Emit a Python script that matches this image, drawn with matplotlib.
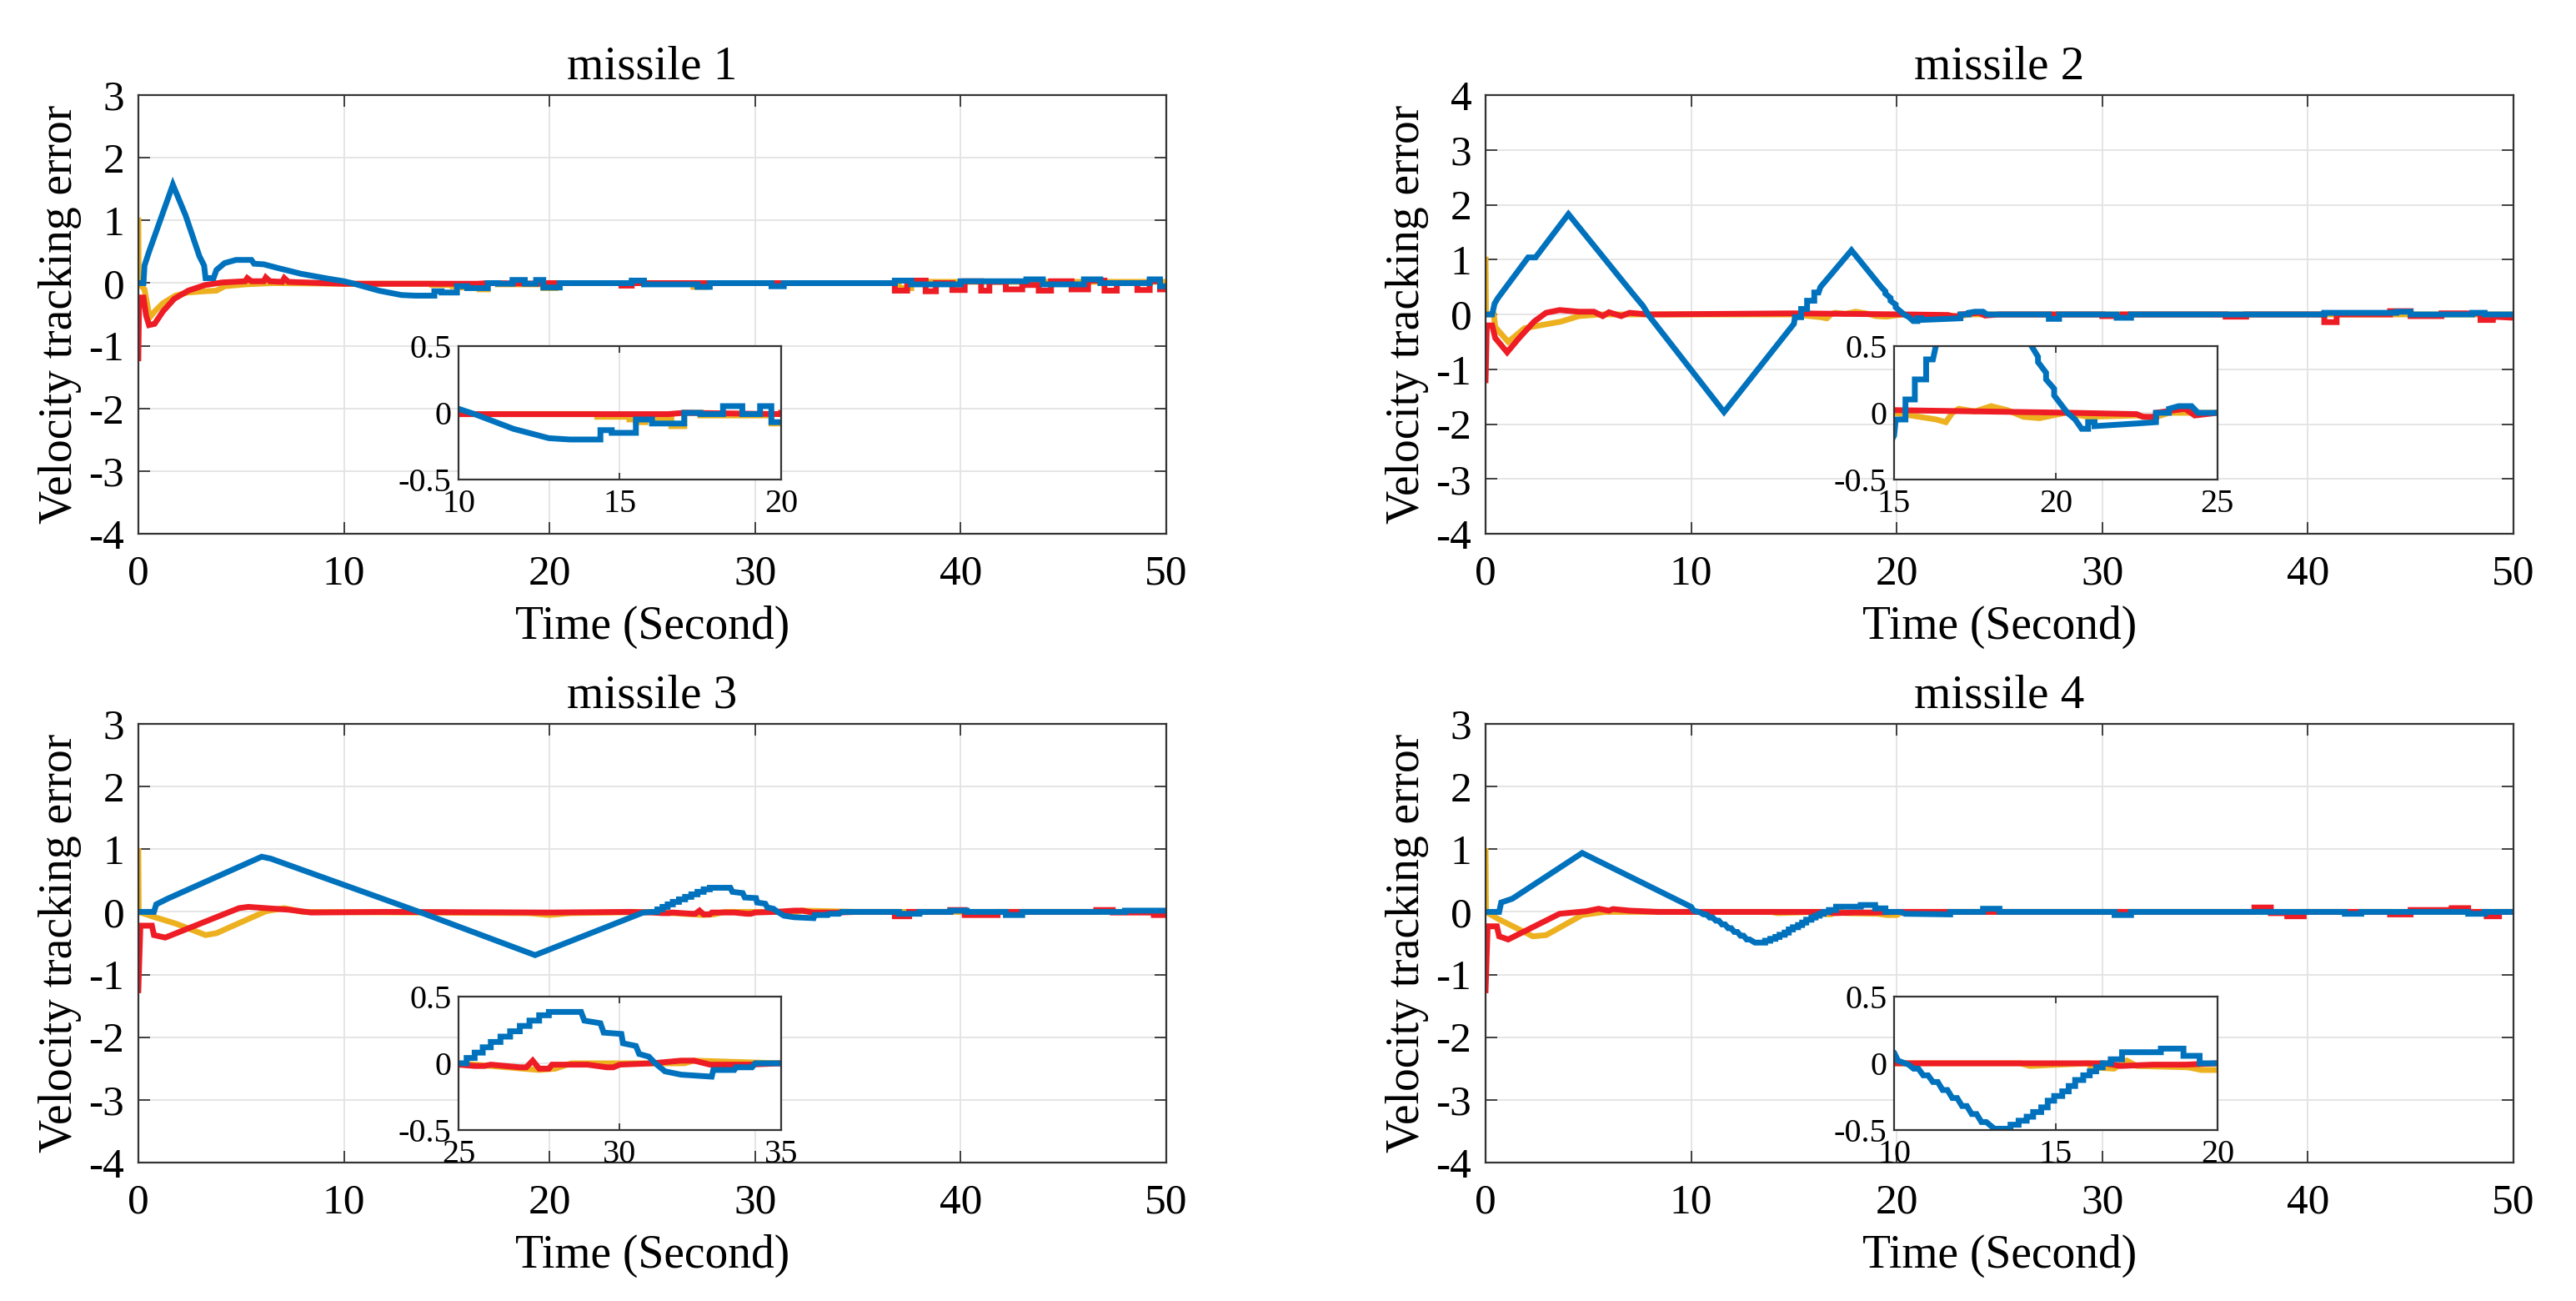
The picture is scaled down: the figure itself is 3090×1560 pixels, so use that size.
import matplotlib
matplotlib.use("Agg")

import matplotlib.pyplot as plt

plt.rcParams['font.family'] = ['Liberation Serif', 'DejaVu Serif']
plt.rcParams['axes.unicode_minus'] = False

# (time, error) pairs, one list per curve
m1_yellow = [(0, 1.0), (0.02, 0.0), (0.3, -0.1), (0.55, -0.55), (0.8, -0.45), (1.2, -0.32),
             (1.8, -0.2), (2.4, -0.15), (3.2, -0.13), (3.8, -0.12), (4.2, -0.05), (5.2, -0.02),
             (6.5, 0.0), (10, -0.01), (14.3, -0.01), (14.3, -0.03), (15.3, -0.03), (15.3, -0.05),
             (15.5, -0.05), (15.5, -0.07), (15.8, -0.07), (15.8, -0.04), (16.6, -0.04), (16.6, -0.1),
             (17.0, -0.1), (17.0, 0.0), (17.5, 0.0), (17.5, -0.02), (19.7, -0.02), (19.7, -0.08),
             (20.3, -0.08), (20.3, 0.0), (27, 0.0), (27, -0.06), (27.6, -0.06), (27.6, 0.0),
             (37, 0.0), (37, -0.08), (37.6, -0.08), (37.6, 0.02), (50, 0.02)]
m1_red = [(0, -1.2), (0.04, -0.23), (0.25, -0.23), (0.38, -0.52), (0.52, -0.67), (0.79, -0.65),
          (1.2, -0.45), (1.75, -0.25), (2.43, -0.12), (3.25, -0.03), (4.07, 0.01), (5.2, 0.03),
          (5.3, 0.08), (5.5, 0.03), (6.1, 0.03), (6.2, 0.09), (6.4, 0.03), (7.0, 0.02), (7.1, 0.08),
          (7.3, 0.02), (9, 0.0), (10, -0.01), (16.5, -0.01), (17, 0.0), (20, -0.01), (20, 0.0),
          (23.5, 0.0), (23.5, -0.04), (24, -0.04), (24, 0.0), (36.8, 0.0), (36.8, -0.12),
          (37.4, -0.12), (37.4, 0.04), (38.3, 0.04), (38.3, -0.13), (38.8, -0.13), (38.8, 0.0),
          (39.6, 0.0), (39.6, -0.11), (40.2, -0.11), (40.2, 0.03), (41, 0.03), (41, -0.12),
          (41.4, -0.12), (41.4, 0.02), (42.2, 0.02), (42.2, -0.1), (43, -0.1), (43, -0.03),
          (43.8, -0.03), (43.8, -0.12), (44.4, -0.12), (44.4, 0.03), (45.4, 0.03), (45.4, -0.1),
          (46.2, -0.1), (46.2, 0.04), (47, 0.04), (47, -0.12), (47.6, -0.12), (47.6, 0.0),
          (48.6, 0.0), (48.6, -0.11), (49.2, -0.11), (49.2, 0.03), (49.7, 0.03), (49.7, -0.1),
          (50, -0.1)]
m1_blue = [(0, 0), (0.25, 0), (0.3, 0.28), (0.52, 0.5), (1.68, 1.57), (2.3, 1.08), (2.97, 0.43),
           (3.2, 0.28), (3.27, 0.08), (3.66, 0.08), (3.8, 0.21), (4.2, 0.32), (4.75, 0.37),
           (5.5, 0.37), (5.63, 0.31), (6.1, 0.3), (6.8, 0.24), (7.9, 0.15), (9.25, 0.07),
           (10.0, 0.03), (10.5, -0.01), (11.7, -0.12), (12.8, -0.19), (13.45, -0.2), (14.4, -0.2),
           (14.4, -0.13), (14.75, -0.13), (14.75, -0.15), (15.5, -0.15), (15.5, -0.05),
           (16.0, -0.05), (16.0, -0.08), (17.0, -0.08), (17.0, 0.0), (17.5, 0.0), (17.5, -0.01),
           (18.2, -0.01), (18.2, 0.05), (18.8, 0.05), (18.8, -0.01), (19.35, -0.01), (19.35, 0.05),
           (19.7, 0.05), (19.7, -0.07), (20.5, -0.07), (20.5, 0.0), (24, 0.0), (24, 0.04),
           (24.6, 0.04), (24.6, -0.02), (27.2, -0.02), (27.2, -0.06), (27.8, -0.06), (27.8, 0.0),
           (30.8, 0.0), (30.8, -0.05), (31.4, -0.05), (31.4, 0.0), (36.8, 0.0), (36.8, 0.04),
           (37.6, 0.04), (37.6, -0.02), (40, -0.02), (40, 0.03), (43.2, 0.03), (43.2, 0.06),
           (44, 0.06), (44, -0.02), (46, -0.02), (46, 0.06), (46.8, 0.06), (46.8, 0.0),
           (49.2, 0.0), (49.2, 0.06), (49.7, 0.06), (49.7, -0.05), (50, -0.05)]

m2_yellow = [(0, 1.0), (0.02, 0.0), (0.4, 0.0), (0.47, -0.23), (1.1, -0.5), (1.9, -0.25),
             (3.67, -0.13), (4.54, -0.03), (5.56, 0.0), (15, 0.0), (16.3, -0.05), (16.6, -0.07),
             (16.8, 0.0), (17, 0.03), (17.5, 0.01), (18, 0.05), (18.5, 0.02), (19, -0.03),
             (19.5, -0.04), (20.3, 0.0), (21, -0.03), (22.5, -0.02), (23, -0.04), (23.5, 0.0),
             (50, 0.0)]
m2_red = [(0, -1.2), (0.06, -0.2), (0.32, -0.2), (0.47, -0.43), (1.05, -0.69), (1.63, -0.43),
          (2.36, -0.13), (2.94, 0.03), (3.6, 0.08), (4.54, 0.05), (5.27, 0.05), (5.7, -0.03),
          (6.0, 0.04), (6.6, -0.03), (7.0, 0.03), (7.9, 0.0), (15, 0.02), (20.5, 0.0),
          (22.5, -0.01), (22.7, -0.03), (23.1, -0.03), (23.1, 0.0), (24, 0.03), (24.3, -0.02),
          (25, 0.0), (30, 0.0), (30, -0.03), (31, -0.03), (31, 0.0), (36, 0.0), (36, -0.04),
          (37, -0.04), (37, 0.0), (40.8, 0.0), (40.8, -0.14), (41.4, -0.14), (41.4, 0.0),
          (44, 0.0), (44, 0.06), (45, 0.06), (45, -0.03), (46.5, -0.03), (46.5, 0.02),
          (48.4, 0.02), (48.4, -0.1), (49, -0.1), (49, -0.04), (50, -0.06)]
m2_blue = [(0, 0), (0.32, 0), (0.44, 0.2), (0.6, 0.3), (2.07, 1.04), (2.43, 1.04), (4.03, 1.83),
           (7.16, 0.38), (7.67, 0.15), (7.96, -0.03), (11.6, -1.78), (15.0, -0.17), (15.05, -0.05),
           (15.35, -0.05), (15.35, 0.1), (15.64, 0.1), (15.64, 0.25), (15.99, 0.25), (15.99, 0.4),
           (16.2, 0.4), (16.29, 0.5), (17.8, 1.17), (19.25, 0.5), (19.45, 0.42), (19.45, 0.38),
           (19.7, 0.3), (19.7, 0.25), (19.95, 0.18), (19.95, 0.13), (20.36, 0.0), (20.6, -0.05),
           (20.8, -0.12), (21.0, -0.12), (21.0, -0.07), (21.2, -0.07), (21.2, -0.1), (22.5, -0.08),
           (23.1, -0.07), (23.1, 0.0), (23.5, 0.0), (23.5, 0.03), (23.8, 0.05), (24.2, 0.05),
           (24.4, 0.0), (27.4, 0.0), (27.4, -0.08), (27.9, -0.08), (27.9, 0.0), (30.7, 0.0),
           (30.7, -0.06), (31.4, -0.06), (31.4, 0.0), (40.8, 0.0), (40.8, 0.03), (44.3, 0.03),
           (44.3, 0.05), (45, 0.05), (45, 0.0), (48, 0.0), (48, 0.03), (48.6, 0.03), (48.6, 0.0),
           (50, 0.0)]

m3_yellow = [(0, 0.97), (0.02, 0.0), (0.76, -0.08), (1.85, -0.19), (3.27, -0.37), (3.8, -0.34),
             (6.2, 0.01), (7.1, 0.06), (8, 0.0), (19, -0.02), (20, -0.05), (21, -0.02), (25, 0.0),
             (27.5, -0.05), (28, -0.04), (28.5, 0.0), (32, 0.0), (32.3, 0.02), (35, 0.0),
             (50, 0.0)]
m3_red = [(0, -1.25), (0.1, -0.22), (0.66, -0.22), (0.76, -0.37), (1.31, -0.41), (4.9, 0.06),
          (5.35, 0.08), (6.2, 0.06), (7.3, 0.035), (8.4, -0.01), (12, 0.0), (20, -0.01), (24, 0.0),
          (25, -0.01), (25.5, -0.02), (25.8, -0.02), (26, -0.01), (26.9, -0.03), (27.1, -0.03),
          (27.3, 0.02), (27.5, -0.04), (27.8, -0.04), (27.9, -0.01), (29, -0.01), (29.6, -0.03),
          (29.8, -0.03), (30, -0.01), (31, 0.0), (31.9, 0.02), (32.3, 0.02), (32.8, -0.01),
          (34, -0.01), (35, 0.0), (36.8, 0.0), (36.8, -0.07), (37.5, -0.07), (37.5, 0.0),
          (39.5, 0.0), (39.5, 0.03), (40.2, 0.03), (40.2, -0.05), (41.8, -0.05), (41.8, 0.0),
          (46.6, 0.0), (46.6, 0.03), (47.4, 0.03), (47.4, -0.01), (49.4, -0.01), (49.4, -0.05),
          (50, -0.05)]
m3_blue = [(0, 0), (0.76, 0), (0.87, 0.12), (1.42, 0.21), (6.0, 0.88), (6.44, 0.85),
           (13.75, -0.01), (19.3, -0.69), (24.56, -0.01), (25.0, 0.0), (25.25, 0.0), (25.25, 0.04),
           (25.5, 0.04), (25.5, 0.08), (25.75, 0.08), (25.75, 0.12), (26.0, 0.12), (26.0, 0.16),
           (26.3, 0.16), (26.3, 0.2), (26.6, 0.2), (26.6, 0.24), (26.9, 0.24), (26.9, 0.28),
           (27.2, 0.28), (27.2, 0.32), (27.5, 0.32), (27.5, 0.36), (27.8, 0.36), (27.8, 0.385),
           (28.8, 0.385), (28.9, 0.32), (29.4, 0.3), (29.5, 0.23), (30.05, 0.22), (30.1, 0.15),
           (30.5, 0.13), (30.6, 0.07), (30.9, 0.05), (31.1, 0.0), (31.4, -0.06), (31.9, -0.085),
           (32.85, -0.1), (32.9, -0.05), (33.55, -0.05), (33.6, -0.03), (34.1, -0.03),
           (34.2, 0.0), (37, 0.0), (37, -0.03), (38, -0.03), (38, 0.0), (39.5, 0.0),
           (39.5, 0.02), (40.3, 0.02), (40.3, 0.0), (42.2, 0.0), (42.2, -0.05), (43, -0.05),
           (43, 0.0), (48, 0.0), (48, 0.02), (50, 0.02)]

m4_yellow = [(0, 0.97), (0.02, 0.0), (0.66, -0.12), (2.3, -0.39), (2.95, -0.37), (4.7, -0.05),
             (5.8, 0.0), (13.9, 0.0), (14.2, -0.02), (16, 0.0), (16.1, -0.03), (16.8, -0.04),
             (17.2, 0.02), (17.5, -0.02), (19.1, -0.03), (19.5, -0.05), (20, -0.05), (20.3, 0.0),
             (50, 0.0)]
m4_red = [(0, -1.25), (0.1, -0.23), (0.55, -0.23), (0.66, -0.39), (1.1, -0.44), (3.6, -0.03),
          (4.9, 0.01), (5.5, 0.05), (6.0, 0.02), (6.2, 0.045), (7, 0.02), (8.4, 0.0), (16.5, 0.0),
          (17, -0.02), (18, -0.01), (19, -0.01), (20, 0.0), (37.4, 0.0), (37.4, 0.07),
          (38.2, 0.07), (38.2, -0.02), (39, -0.02), (39, -0.07), (39.8, -0.07), (39.8, 0.0),
          (44, 0.0), (44, -0.04), (45, -0.04), (45, 0.03), (47, 0.03), (47, 0.06), (47.8, 0.06),
          (47.8, 0.0), (48.7, 0.0), (48.7, -0.07), (49.3, -0.07), (49.3, 0.0), (50, 0.0)]
m4_blue = [(0, 0), (0.66, 0), (0.76, 0.15), (1.3, 0.21), (4.7, 0.94), (10.0, 0.08),
           (10.12, 0.02), (10.45, -0.01), (10.6, -0.04), (10.75, -0.04), (10.9, -0.09),
           (11.05, -0.09), (11.2, -0.14), (11.35, -0.14), (11.5, -0.2), (11.65, -0.2),
           (11.8, -0.26), (11.95, -0.26), (12.1, -0.32), (12.25, -0.32), (12.4, -0.38),
           (12.55, -0.38), (12.7, -0.44), (12.85, -0.44), (13.1, -0.49), (13.45, -0.49),
           (13.6, -0.49), (13.6, -0.46), (13.85, -0.46), (13.85, -0.43), (14.1, -0.43),
           (14.1, -0.4), (14.3, -0.4), (14.3, -0.365), (14.55, -0.365), (14.55, -0.33),
           (14.75, -0.33), (14.75, -0.28), (14.95, -0.28), (14.95, -0.245), (15.2, -0.245),
           (15.2, -0.21), (15.4, -0.21), (15.4, -0.17), (15.6, -0.17), (15.6, -0.125),
           (15.85, -0.125), (15.85, -0.09), (16.05, -0.09), (16.05, -0.06), (16.25, -0.06),
           (16.25, -0.03), (16.45, -0.03), (16.45, 0.0), (16.7, 0.0), (16.7, 0.03), (17.05, 0.03),
           (17.05, 0.083), (18.25, 0.083), (18.25, 0.11), (18.95, 0.11), (18.95, 0.056),
           (19.45, 0.056), (19.45, 0.0), (20.2, 0.0), (20.4, -0.03), (22.6, -0.04), (22.6, 0.0),
           (24.2, 0.0), (24.2, 0.05), (25.0, 0.05), (25.0, 0.0), (30.6, 0.0), (30.6, -0.05),
           (31.4, -0.05), (31.4, 0.0), (41.8, 0.0), (41.8, -0.03), (42.6, -0.03), (42.6, 0.0),
           (47.8, 0.0), (47.8, -0.03), (48.6, -0.03), (48.6, 0.0), (50, 0.0)]

titles = ['missile 1', 'missile 2', 'missile 3', 'missile 4']
curves = [[m1_yellow, m1_red, m1_blue], [m2_yellow, m2_red, m2_blue],
          [m3_yellow, m3_red, m3_blue], [m4_yellow, m4_red, m4_blue]]
y_limits = [(-4, 3), (-4, 4), (-4, 3), (-4, 3)]
zoom_ranges = [(10, 20), (15, 25), (25, 35), (10, 20)]
line_colors = ['#EDB120', '#EE1C24', '#0072BD']

main_rects = [[0.0537, 0.5897, 0.3990, 0.3372], [0.5767, 0.5897, 0.3990, 0.3372],
              [0.0537, 0.1064, 0.3990, 0.3372], [0.5767, 0.1064, 0.3990, 0.3372]]
inset_rects = [[0.1780, 0.6314, 0.1252, 0.1026], [0.7353, 0.6314, 0.1255, 0.1026],
               [0.1780, 0.1314, 0.1252, 0.1026], [0.7353, 0.1314, 0.1255, 0.1026]]


def split(pairs):
    return [p[0] for p in pairs], [p[1] for p in pairs]


def draw_curves(ax, series):
    for pairs, color in zip(series, line_colors):
        t, v = split(pairs)
        ax.plot(t, v, color=color, lw=5.0, solid_joinstyle='miter')


def style_axes(ax, size, tick_len, pad_x, pad_y):
    ax.grid(True, color='#e3e3e3', lw=1.3)
    ax.set_axisbelow(True)
    for s in ax.spines.values():
        s.set_color('#333333')
        s.set_linewidth(1.6)
    ax.tick_params(direction='in', top=True, right=True, length=tick_len,
                   width=1.3, color='#333333', labelsize=size)
    ax.tick_params(axis='x', pad=pad_x)
    ax.tick_params(axis='y', pad=pad_y)


fig = plt.figure(figsize=(30.9, 15.6), dpi=100)

for i in range(4):
    ax = fig.add_axes(main_rects[i])
    draw_curves(ax, curves[i])
    ax.set_xlim(0, 50)
    ax.set_ylim(*y_limits[i])
    ax.set_xticks([0, 10, 20, 30, 40, 50])
    ax.set_yticks(range(y_limits[i][0], y_limits[i][1] + 1))
    style_axes(ax, 37, 10, 18, 12)
    ax.set_title(titles[i], fontsize=41, pad=14)
    ax.set_xlabel('Time (Second)', fontsize=40, labelpad=10)
    ax.set_ylabel('Velocity tracking error', fontsize=40, labelpad=6)

    ins = fig.add_axes(inset_rects[i])
    ins.set_facecolor('white')
    draw_curves(ins, curves[i])
    lo, hi = zoom_ranges[i]
    ins.set_xlim(lo, hi)
    ins.set_ylim(-0.5, 0.5)
    ins.set_xticks([lo, (lo + hi) / 2, hi])
    ins.set_xticklabels([str(lo), str(int((lo + hi) / 2)), str(hi)])
    ins.set_yticks([-0.5, 0, 0.5])
    ins.set_yticklabels(['-0.5', '0', '0.5'])
    style_axes(ins, 29, 6, 8, 6)

fig.savefig('out.png', dpi=100)
